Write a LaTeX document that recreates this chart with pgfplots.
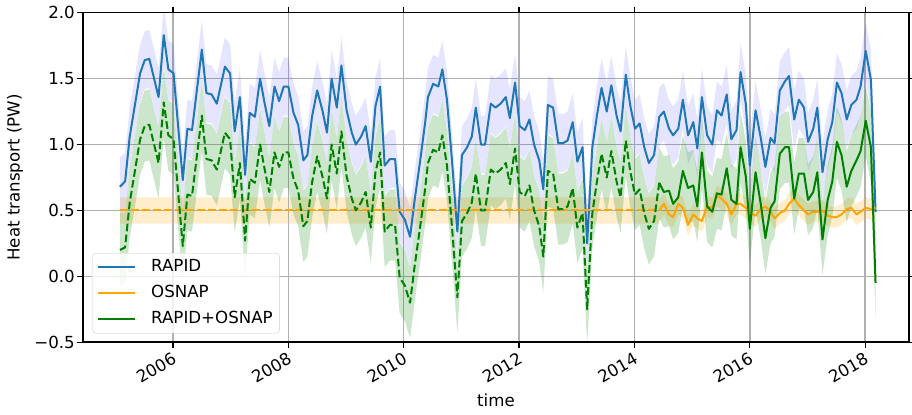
\documentclass[border=0pt]{standalone}
\usepackage{fontspec}
\setmainfont{DejaVu Sans}
\usepackage{pgfplots}
\pgfplotsset{compat=1.18}
\usepgfplotslibrary{fillbetween}
\usepackage{pgfplotstable}

\definecolor{c0}{HTML}{1F77B4}
\definecolor{mplorange}{HTML}{FFA500}
\definecolor{mplgreen}{HTML}{008000}
\definecolor{gridgray}{HTML}{B0B0B0}

\pgfplotstableread{
t r g
2005.08 0.68 0.20
2005.17 0.72 0.22
2005.25 1.06 0.56
2005.43 1.54 1.04
2005.51 1.64 1.14
2005.59 1.65 1.15
2005.75 1.36 0.86
2005.84 1.83 1.32
2005.92 1.57 1.07
2006.01 1.54 1.04
2006.17 0.73 0.23
2006.25 1.12 0.62
2006.33 1.11 0.61
2006.50 1.72 1.22
2006.58 1.39 0.89
2006.67 1.38 0.88
2006.76 1.31 0.81
2006.90 1.59 1.09
2006.99 1.54 1.04
2007.07 1.10 0.60
2007.16 1.36 0.86
2007.25 0.77 0.27
2007.33 1.24 0.74
2007.42 1.21 0.71
2007.51 1.50 1.00
2007.59 1.31 0.81
2007.67 1.14 0.64
2007.76 1.44 0.94
2007.84 1.33 0.83
2007.92 1.44 0.94
2008.00 1.44 0.94
2008.09 1.24 0.74
2008.17 1.15 0.65
2008.26 0.88 0.38
2008.33 0.92 0.42
2008.41 1.21 0.71
2008.50 1.41 0.91
2008.59 1.26 0.76
2008.67 1.09 0.59
2008.75 1.50 1.00
2008.84 1.28 0.78
2008.92 1.60 1.10
2009.01 1.26 0.76
2009.10 1.09 0.59
2009.17 1.00 0.50
2009.26 1.06 0.56
2009.34 1.14 0.64
2009.43 0.87 0.37
2009.51 1.29 0.79
2009.59 1.44 0.94
2009.67 0.84 0.34
2009.76 0.89 0.39
2009.85 0.89 0.39
2009.93 0.49 -0.01
2010.02 0.43 -0.07
2010.11 0.30 -0.20
2010.19 0.58 0.08
2010.28 0.86 0.36
2010.37 1.16 0.66
2010.42 1.36 0.86
2010.51 1.46 0.96
2010.60 1.44 0.94
2010.67 1.57 1.07
2010.75 1.34 0.84
2010.84 0.86 0.36
2010.93 0.34 -0.16
2011.01 0.92 0.42
2011.10 0.98 0.48
2011.18 1.06 0.56
2011.25 1.28 0.78
2011.34 1.00 0.50
2011.41 1.00 0.50
2011.51 1.31 0.81
2011.59 1.28 0.78
2011.68 1.31 0.81
2011.77 1.36 0.86
2011.84 1.20 0.70
2011.93 1.47 0.97
2012.01 1.14 0.64
2012.10 1.11 0.61
2012.18 1.19 0.69
2012.26 1.00 0.50
2012.35 0.88 0.38
2012.42 0.66 0.15
2012.50 1.30 0.80
2012.59 1.28 0.78
2012.68 1.01 0.51
2012.76 1.01 0.51
2012.84 1.03 0.53
2012.93 1.17 0.67
2013.01 0.87 0.37
2013.10 0.98 0.48
2013.18 0.25 -0.25
2013.27 0.98 0.48
2013.35 1.22 0.72
2013.43 1.43 0.93
2013.52 1.25 0.75
2013.60 1.45 0.95
2013.69 1.22 0.72
2013.76 1.10 0.60
2013.85 1.53 1.03
2013.93 1.29 0.79
2014.01 1.12 0.62
2014.09 1.16 0.66
2014.17 0.98 0.48
2014.25 0.86 0.36
2014.34 0.92 0.42
2014.43 1.21 0.71
2014.51 1.25 0.64
2014.60 1.12 0.65
2014.67 1.07 0.55
2014.76 1.12 0.60
2014.84 1.34 0.80
2014.93 1.07 0.67
2015.02 1.17 0.69
2015.09 0.97 0.53
2015.17 1.36 0.94
2015.26 1.07 0.53
2015.35 1.00 0.49
2015.43 1.26 0.63
2015.51 1.22 0.62
2015.60 1.38 0.82
2015.68 1.04 0.58
2015.77 1.11 0.55
2015.84 1.55 0.98
2015.93 1.31 0.76
2016.00 0.84 0.36
2016.10 1.26 0.79
2016.19 1.05 0.55
2016.27 0.83 0.29
2016.36 1.05 0.52
2016.43 1.01 0.57
2016.52 1.41 0.93
2016.61 1.48 0.98
2016.68 1.52 0.98
2016.77 1.19 0.59
2016.85 1.34 0.78
2016.94 1.28 0.78
2017.01 1.02 0.58
2017.10 1.12 0.64
2017.17 1.28 0.79
2017.26 0.79 0.28
2017.35 1.04 0.58
2017.43 1.17 0.72
2017.51 1.47 1.02
2017.59 1.39 0.92
2017.68 1.19 0.68
2017.76 1.30 0.80
2017.85 1.34 0.88
2017.92 1.44 0.95
2018.01 1.71 1.18
2018.10 1.49 0.98
2018.18 0.49 -0.05
}\rapid

\pgfplotstableread{
t o
2014.43 0.50
2014.51 0.55
2014.60 0.47
2014.67 0.45
2014.76 0.55
2014.84 0.52
2014.93 0.39
2015.02 0.47
2015.09 0.44
2015.17 0.42
2015.26 0.53
2015.35 0.52
2015.43 0.61
2015.51 0.59
2015.60 0.55
2015.68 0.47
2015.77 0.55
2015.84 0.55
2015.93 0.52
2016.00 0.48
2016.10 0.46
2016.19 0.51
2016.27 0.53
2016.36 0.49
2016.43 0.44
2016.52 0.48
2016.61 0.50
2016.68 0.55
2016.77 0.59
2016.85 0.54
2016.94 0.50
2017.01 0.47
2017.10 0.49
2017.17 0.49
2017.26 0.50
2017.35 0.46
2017.43 0.45
2017.51 0.45
2017.59 0.47
2017.68 0.51
2017.76 0.52
2017.85 0.47
2017.92 0.49
2018.01 0.52
2018.10 0.51
2018.18 0.52
}\osnap

\begin{document}
\begin{tikzpicture}[font=\fontsize{16.7}{20}\selectfont]
\begin{axis}[
  scale only axis, width=826bp, height=329.6bp,
  xmin=2004.44, xmax=2018.76, ymin=-0.5, ymax=2.0,
  xtick={2006,2008,...,2018},
  xticklabels={2006,2008,2010,2012,2014,2016,2018},
  ytick={-0.5,0,0.5,1,1.5,2},
  yticklabels={−0.5,0.0,0.5,1.0,1.5,2.0},
  tick align=outside, major tick length=6bp,
  tick style={black, line width=1.2bp},
  axis line style={line width=1.6bp},
  grid=major, grid style={gridgray, line width=1.5bp},
  xticklabel style={rotate=30, anchor=north east, inner sep=2bp, xshift=-1bp},
  yticklabel style={inner sep=2bp},
  xlabel={time}, ylabel={Heat transport (PW)},
  xlabel style={at={(axis description cs:0.5,-0.175)}, anchor=center},
  ylabel style={at={(axis description cs:-0.0823,0.5)}, anchor=center},
  legend style={at={(axis description cs:0.0109,0.027)}, anchor=south west,
    draw=black!20, rounded corners=4bp, fill=white, fill opacity=0.8, text opacity=1,
    row sep=7bp, column sep=13bp, inner xsep=5bp, inner ysep=4.5bp,
    nodes={inner sep=2bp, text height=12bp, text depth=3bp}},
  legend cell align=left,
  legend image code/.code={\draw[#1] (0bp,0bp) -- (37bp,0bp);},
]
\coordinate (sw) at (rel axis cs:0,0);
\coordinate (ne) at (rel axis cs:1,1);

% RAPID band
\addplot[name path=rU, draw=none, forget plot] table[x=t, y expr=\thisrow{r}+0.22]{\rapid};
\addplot[name path=rL, draw=none, forget plot] table[x=t, y expr=\thisrow{r}-0.22]{\rapid};
\addplot[fill=blue, fill opacity=0.1, draw=none, forget plot, on layer=axis background] fill between[of=rU and rL];

% OSNAP band (climatology and measured)
\addplot[fill=mplorange, fill opacity=0.2, draw=none, forget plot, on layer=axis background]
  coordinates {(2005.08,0.4) (2014.43,0.4) (2014.43,0.6) (2005.08,0.6) (2005.08,0.4)};
\addplot[name path=oU, draw=none, forget plot] table[x=t, y expr=\thisrow{o}+0.08]{\osnap};
\addplot[name path=oL, draw=none, forget plot] table[x=t, y expr=\thisrow{o}-0.08]{\osnap};
\addplot[fill=mplorange, fill opacity=0.2, draw=none, forget plot, on layer=axis background] fill between[of=oU and oL];

% RAPID+OSNAP band
\addplot[name path=gU, draw=none, forget plot] table[x=t, y expr=\thisrow{g}+0.27]{\rapid};
\addplot[name path=gL, draw=none, forget plot] table[x=t, y expr=\thisrow{g}-0.27]{\rapid};
\addplot[fill=mplgreen, fill opacity=0.2, draw=none, forget plot, on layer=axis background] fill between[of=gU and gL];

% lines
\addplot[c0, line width=2bp, line join=round] table[x=t, y=r]{\rapid};
\addlegendentry{RAPID}
\addplot[mplorange, line width=2bp, dash pattern=on 7.7bp off 3.3bp, forget plot]
  coordinates {(2005.08,0.5) (2014.43,0.5)};
\addplot[mplorange, line width=2bp, line join=round] table[x=t, y=o]{\osnap};
\addlegendentry{OSNAP}
\addplot[mplgreen, line width=2bp, line join=round, dash pattern=on 7.7bp off 3.3bp, forget plot,
  restrict x to domain=2005:2014.44] table[x=t, y=g]{\rapid};
\addplot[mplgreen, line width=2bp, line join=round,
  restrict x to domain=2014.42:2019] table[x=t, y=g]{\rapid};
\addlegendentry{RAPID+OSNAP}
\end{axis}
\pgfresetboundingbox
\path ([shift={(-83bp,-72.7bp)}]sw) rectangle ([shift={(3bp,12.7bp)}]ne);
\end{tikzpicture}
\end{document}
